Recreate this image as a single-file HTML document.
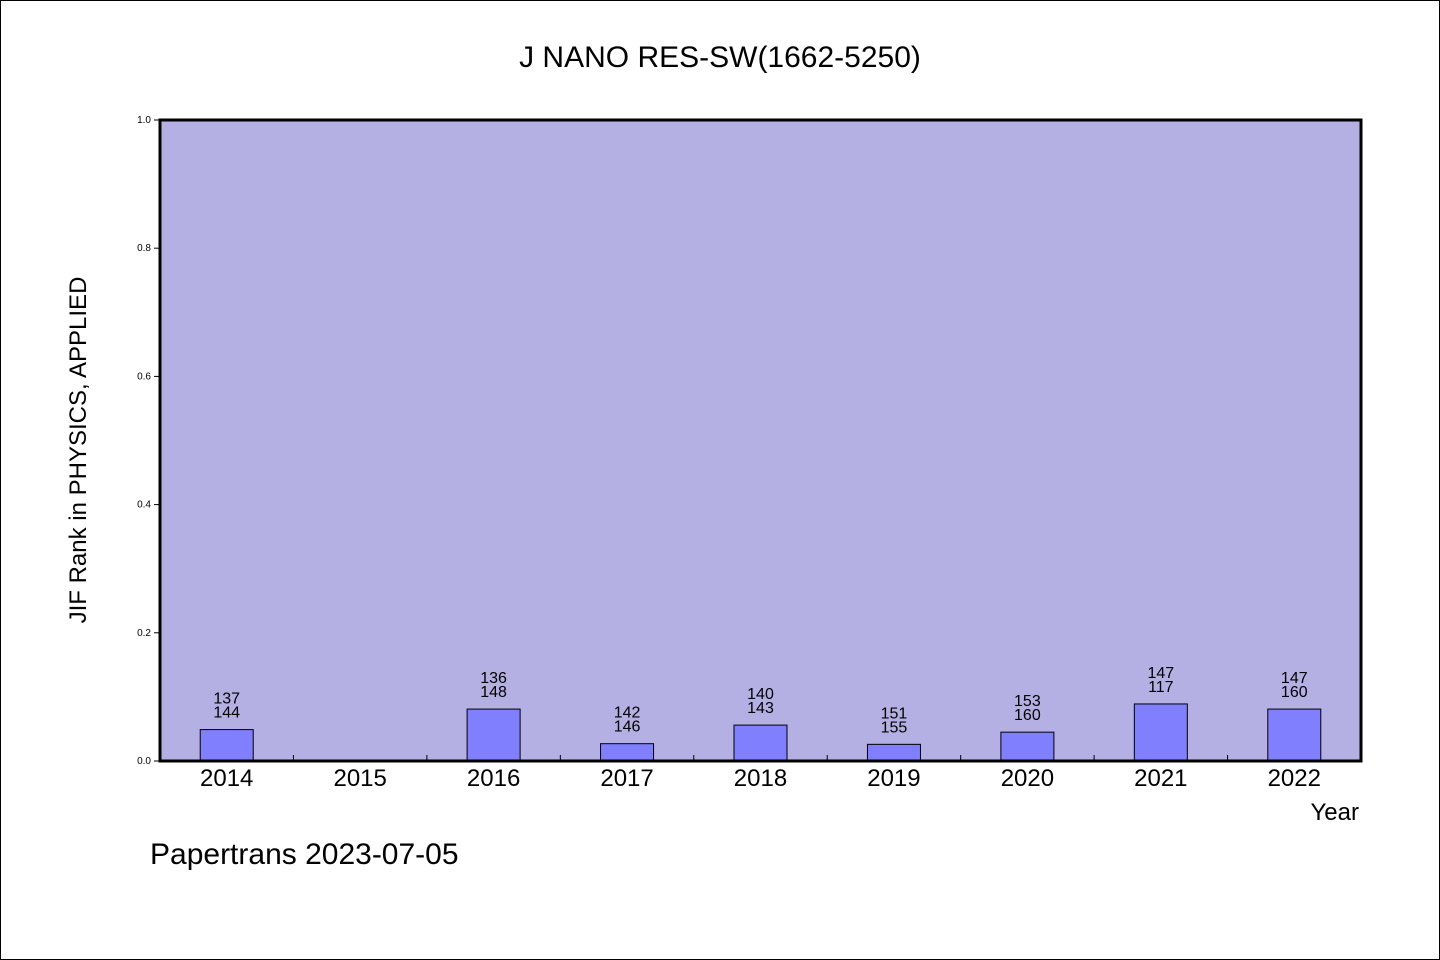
<!DOCTYPE html>
<html><head><meta charset="utf-8"><style>
body{margin:0;background:#fff}
svg{display:block}
text{font-family:"WenQuanYi Zen Hei","Liberation Sans",sans-serif;fill:#000}
</style></head><body>
<svg width="1440" height="960">
<rect x="0.5" y="0.5" width="1439" height="959" fill="#fff" stroke="#000"/>
<text x="720" y="67" font-size="30" text-anchor="middle">J NANO RES-SW(1662-5250)</text>
<g id="plot"></g>
<text transform="translate(86,450) rotate(-90)" font-size="24" text-anchor="middle">JIF Rank in PHYSICS, APPLIED</text>
<text x="1359" y="820" font-size="24" text-anchor="end">Year</text>
<text x="150" y="864" font-size="30">Papertrans 2023-07-05</text>
</svg>
<script>
const categories=["2014","2015","2016","2017","2018","2019","2020","2021","2022"];
const values=[0.049,0,0.081,0.027,0.056,0.026,0.045,0.089,0.081];
const labelTop=["137","","136","142","140","151","153","147","147"];
const labelBottom=["144","","148","146","143","155","160","117","160"];
const yTicks=[0,0.2,0.4,0.6,0.8,1.0];
const L=160,R=1361,T=120,B=761;
const ns="http://www.w3.org/2000/svg";
const g=document.getElementById('plot');
function y(v){return B-(B-T)*v;}
const band=(R-L)/categories.length;
function x(i){return L+band*i+band/2;}
function mk(t,a){const e=document.createElementNS(ns,t);for(const k in a)e.setAttribute(k,a[k]);g.appendChild(e);return e;}
let bg=mk('rect',{x:L,y:T,width:R-L,height:B-T,fill:'#b5b0e3'});


yTicks.forEach(v=>{
 let l=mk('line',{x1:L-6,x2:L,y1:y(v),y2:y(v),stroke:'#000'});
 
 
 let t=mk('text',{x:L-9,y:y(v)+3,'font-size':10,'text-anchor':'end'});
 t.textContent=v.toFixed(1);
 
 
});
categories.forEach((c,i)=>{
 if(i>0){let tk=mk('line',{x1:L+band*i,x2:L+band*i,y1:B,y2:B-6,stroke:'#000'});
 
 }
 if(values[i]>0){
  let r=mk('rect',{x:x(i)-26.5,y:y(values[i]),width:53,height:B-y(values[i]),fill:'#8080ff',stroke:'#000','stroke-width':1});
  
  
 }
 if(labelTop[i]){
  let t1=mk('text',{x:x(i),y:y(values[i])-26,'font-size':16,'text-anchor':'middle'});
  t1.textContent=labelTop[i];
  
  
  let t2=mk('text',{x:x(i),y:y(values[i])-12,'font-size':16,'text-anchor':'middle'});
  t2.textContent=labelBottom[i];
  
  
 }
 let xl=mk('text',{x:x(i),y:B+25,'font-size':24,'text-anchor':'middle'});
 xl.textContent=c;
 
 
});
let bd=mk('rect',{x:L,y:T,width:R-L,height:B-T,fill:'none',stroke:'#000','stroke-width':3});


</script>
</body></html>
